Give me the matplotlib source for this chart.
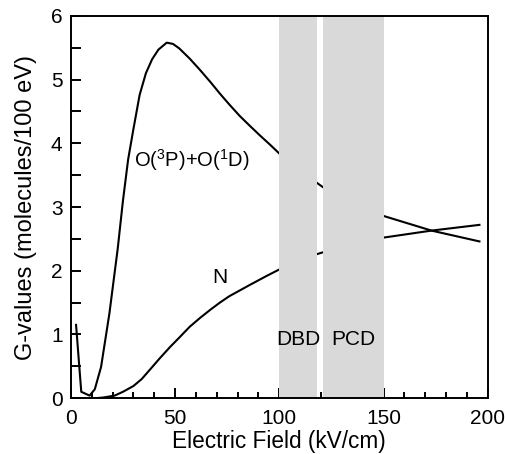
import matplotlib
matplotlib.use("Agg")
import matplotlib.pyplot as plt
from matplotlib.ticker import MultipleLocator

# values (G-values vs field)
o_field = [2.5, 5, 9, 11.5, 14.5, 18.5, 22.5, 25, 27.5, 30, 33, 36, 39, 42, 46, 49, 52, 57, 62, 67, 71.5, 76, 81, 86, 90.5, 95.5, 100, 110, 118, 121, 135, 150, 173, 196]
o_g = [1.15, 0.10, 0.04, 0.14, 0.49, 1.33, 2.35, 3.10, 3.75, 4.22, 4.76, 5.10, 5.32, 5.47, 5.58, 5.56, 5.49, 5.33, 5.15, 4.96, 4.78, 4.61, 4.43, 4.27, 4.13, 3.98, 3.84, 3.58, 3.38, 3.31, 3.07, 2.86, 2.63, 2.46]
n_field = [12, 15.5, 21, 25, 30, 34, 38, 42.5, 47.5, 52, 57, 62, 67, 71.5, 76, 81, 86, 90, 94, 100, 110, 118, 121, 135, 150, 173, 196]
n_g = [0, 0.01, 0.04, 0.10, 0.19, 0.30, 0.45, 0.62, 0.80, 0.95, 1.12, 1.26, 1.39, 1.50, 1.60, 1.69, 1.78, 1.85, 1.92, 2.02, 2.16, 2.26, 2.29, 2.42, 2.52, 2.63, 2.72]
bands = [("DBD", 100, 118), ("PCD", 121, 150)]

plt.rcParams["font.family"] = ["Liberation Sans", "DejaVu Sans"]
plt.rcParams["mathtext.fontset"] = "custom"
plt.rcParams["mathtext.rm"] = "Liberation Sans"
plt.rcParams["mathtext.it"] = "Liberation Sans"

fig = plt.figure(figsize=(5.06, 4.54), dpi=100)
ax = fig.add_axes([0.140, 0.123, 0.824, 0.842])
ax.plot(o_field, o_g, color="black", lw=1.5, zorder=2)
ax.plot(n_field, n_g, color="black", lw=1.5, zorder=2)
for name, lo, hi in bands:
    ax.axvspan(lo, hi, color="#d9d9d9", lw=0, zorder=3)
    ax.text((lo + hi) / 2, 0.92, name, ha="center", va="center", fontsize=15, zorder=4)
ax.text(57.8, 3.74, r"O($^3$P)+O($^1$D)", ha="center", va="center", fontsize=14.5)
ax.text(71.5, 1.89, "N", ha="center", va="center", fontsize=15)

ax.set_xlim(0, 200); ax.set_ylim(0, 6)
ax.xaxis.set_major_locator(MultipleLocator(50)); ax.xaxis.set_minor_locator(MultipleLocator(10))
ax.yaxis.set_major_locator(MultipleLocator(1)); ax.yaxis.set_minor_locator(MultipleLocator(0.5))
ax.tick_params(which="both", direction="in", width=1.4, labelsize=15, top=False, right=False)
ax.tick_params(axis="x", which="major", length=7.2, pad=8)
ax.tick_params(axis="x", which="minor", length=4.3)
ax.tick_params(axis="y", which="both", length=7.2, pad=6)
for s in ax.spines.values(): s.set_linewidth(1.4); s.set_zorder(5)
ax.set_xlabel("Electric Field (kV/cm)", fontsize=16.3, labelpad=1)
ax.set_ylabel("G-values (molecules/100 eV)", fontsize=17, labelpad=10)
fig.savefig("out.png", dpi=100)
